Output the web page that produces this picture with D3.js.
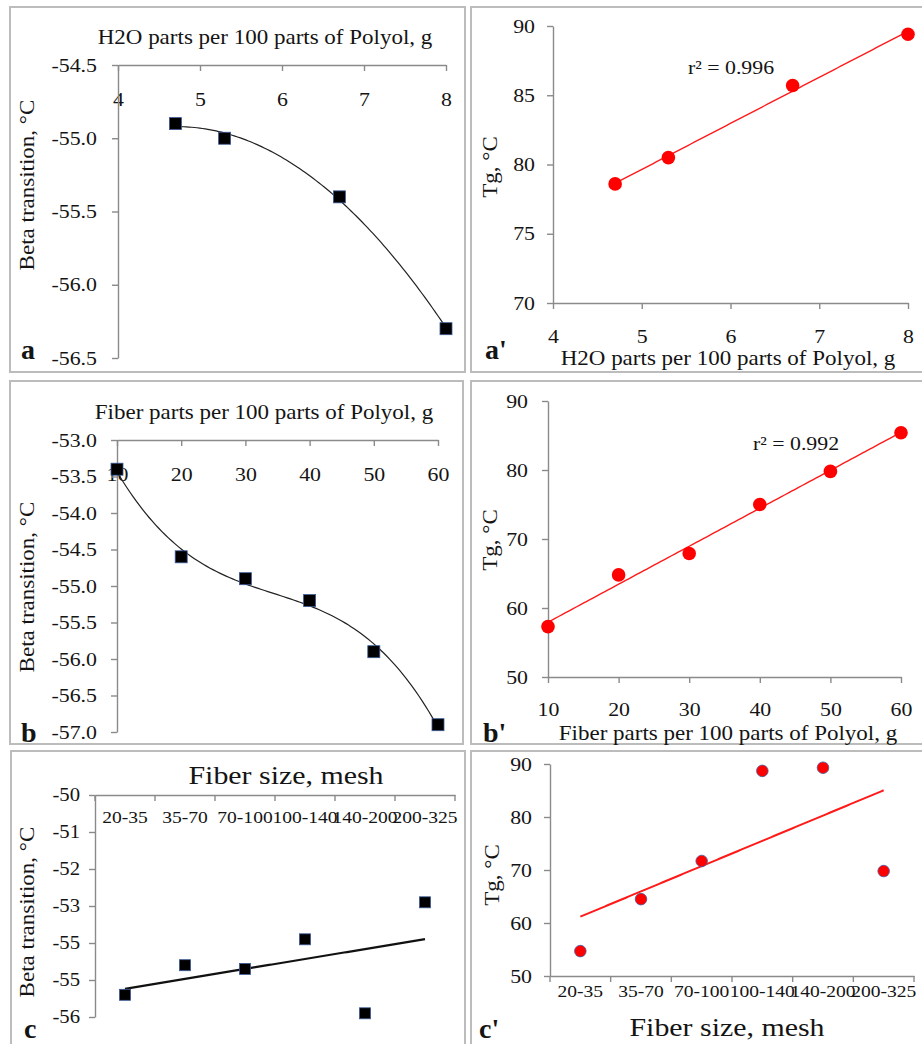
<!DOCTYPE html>
<html><head><meta charset="utf-8">
<script src="https://cdnjs.cloudflare.com/ajax/libs/d3/7.8.5/d3.min.js"></script>
<style>html,body{margin:0;padding:0;background:#fff;}svg{display:block;}</style>
</head><body>
<script>
// ---------------- data ----------------
const h2oParts   = [4.7, 5.3, 6.7, 8.0];
const betaH2O    = [-54.9, -55.0, -55.4, -56.3];
const tgH2O      = [78.6, 80.5, 85.7, 89.4];
const fiberParts = [10, 20, 30, 40, 50, 60];
const betaFiber  = [-53.4, -54.6, -54.9, -55.2, -55.9, -56.9];
const tgFiber    = [57.3, 64.8, 67.9, 75.0, 79.8, 85.4];
const meshSizes  = ["20-35", "35-70", "70-100", "100-140", "140-200", "200-325"];
const betaMesh   = [-55.4, -54.6, -54.7, -53.9, -55.9, -52.9];
const tgMesh     = [54.7, 64.5, 71.7, 88.7, 89.3, 69.8];

const h2oTicks        = [4, 5, 6, 7, 8];
const betaH2OTicks    = [-54.5, -55.0, -55.5, -56.0, -56.5];
const tgH2OTicks      = [70, 75, 80, 85, 90];
const fiberTicks      = [10, 20, 30, 40, 50, 60];
const betaFiberTicks  = [-53.0, -53.5, -54.0, -54.5, -55.0, -55.5, -56.0, -56.5, -57.0];
const tgFiberTicks    = [50, 60, 70, 80, 90];
const betaMeshTicks   = [-50, -51, -52, -53, -54, -55, -56];
const betaMeshLabels  = ["-50", "-51", "-52", "-53", "-55", "-55", "-56"];
const tgMeshTicks     = [50, 60, 70, 80, 90];

const r2H2O = "0.996", r2Fiber = "0.992";
const xTitleH2O = "H2O parts per 100 parts of Polyol, g";
const xTitleFiber = "Fiber parts per 100 parts of Polyol, g";
const xTitleMesh = "Fiber size, mesh";
const yTitleBeta = "Beta transition, \u00B0C";
const yTitleTg = "Tg, \u00B0C";

// ---------------- style ----------------
const SX = 1.15;
const SERIF = "'Liberation Serif','Times New Roman',serif";
const TEXT = "#141414";
const AXIS = "#8a8a8a";
const BORDER = "#bcbcbc";
const RED = "#ff1a1a";

const svg = d3.select("body").append("svg").attr("width", 922).attr("height", 1044);
svg.append("rect").attr("width", 922).attr("height", 1044).attr("fill", "#fff");

// panel frames
[[10,7,455,365],[471,7,460,365],[10,381,453,363],[471,381,460,363],[11,751,454,300],[471,751,460,300]]
  .forEach(([x,y,w,h]) => svg.append("rect").attr("x",x).attr("y",y).attr("width",w).attr("height",h)
    .attr("fill","none").attr("stroke",BORDER).attr("stroke-width",2));

function label(x, y, s, o = {}) {
  return svg.append("text")
    .attr("transform", `translate(${x},${y}) rotate(${o.rot || 0}) scale(${o.sx ?? SX},1)`)
    .attr("text-anchor", o.anchor || "middle")
    .attr("font-family", SERIF)
    .attr("font-size", o.size || 20)
    .attr("font-weight", o.weight || "normal")
    .attr("fill", o.fill || TEXT)
    .attr("dy", o.dy ?? "0.35em")
    .text(s);
}

function styleAxis(g, size) {
  g.select(".domain").attr("stroke", AXIS).attr("stroke-width", 1.4);
  g.selectAll(".tick line").attr("stroke", AXIS).attr("stroke-width", 1.4);
  g.selectAll(".tick text").attr("font-family", SERIF).attr("font-size", size).attr("fill", TEXT)
    .each(function () {
      const el = d3.select(this);
      const x = +el.attr("x") || 0;
      el.attr("x", x / SX).attr("transform", `scale(${SX},1)`);
    });
}

function polyfit(xs, ys, deg) {
  const m = d3.mean(xs), s = (d3.max(xs) - d3.min(xs)) / 2 || 1;
  const us = xs.map(x => (x - m) / s);
  const n = deg + 1;
  const A = Array.from({length: n}, () => Array(n + 1).fill(0));
  us.forEach((u, i) => {
    for (let r = 0; r < n; r++) {
      for (let c = 0; c < n; c++) A[r][c] += Math.pow(u, r + c);
      A[r][n] += ys[i] * Math.pow(u, r);
    }
  });
  for (let col = 0; col < n; col++) {
    let piv = col;
    for (let r = col + 1; r < n; r++) if (Math.abs(A[r][col]) > Math.abs(A[piv][col])) piv = r;
    [A[col], A[piv]] = [A[piv], A[col]];
    for (let r = 0; r < n; r++) {
      if (r === col) continue;
      const f = A[r][col] / A[col][col];
      for (let c = col; c <= n; c++) A[r][c] -= f * A[col][c];
    }
  }
  const coef = A.map((row, i) => row[n] / row[i]);
  return x => { const u = (x - m) / s; return coef.reduce((acc, c, i) => acc + c * Math.pow(u, i), 0); };
}

function trend(xs, ys, deg, xScale, yScale, color, width) {
  const f = polyfit(xs, ys, deg);
  const x0 = d3.min(xs), x1 = d3.max(xs);
  const pts = d3.range(0, 101).map(i => x0 + (x1 - x0) * i / 100);
  svg.append("path").datum(pts)
    .attr("d", d3.line().x(d => xScale(d)).y(d => yScale(f(d))))
    .attr("fill", "none").attr("stroke", color).attr("stroke-width", width);
}

function squares(xs, ys, xScale, yScale, size) {
  svg.append("g").selectAll("rect").data(xs).join("rect")
    .attr("x", (d) => xScale(d) - size / 2)
    .attr("y", (d, i) => yScale(ys[i]) - size / 2)
    .attr("width", size).attr("height", size)
    .attr("fill", "#000").attr("stroke", "#3a5a9a").attr("stroke-width", 0.8);
}
function circles(xs, ys, xScale, yScale, r, stroke) {
  svg.append("g").selectAll("circle").data(xs).join("circle")
    .attr("cx", d => xScale(d)).attr("cy", (d, i) => yScale(ys[i])).attr("r", r)
    .attr("fill", "#ff0000").attr("stroke", stroke || "none").attr("stroke-width", 0.8);
}

const fmt1 = d => d.toFixed(1);

// ================= Panel a =================
{
  const x = d3.scaleLinear().domain([4, 8]).range([118, 446]);
  const y = d3.scaleLinear().domain([-56.5, -54.5]).range([358, 65]);
  const gx = svg.append("g").attr("transform", "translate(0,65)")
    .call(d3.axisBottom(x).tickValues(h2oTicks).tickFormat(d3.format("d")).tickSize(6).tickSizeOuter(0).tickPadding(22));
  styleAxis(gx, 19);
  const gy = svg.append("g").attr("transform", "translate(118,0)")
    .call(d3.axisLeft(y).tickValues(betaH2OTicks).tickFormat(fmt1).tickSize(6).tickSizeOuter(0).tickPadding(15));
  styleAxis(gy, 19);
  trend(h2oParts, betaH2O, 2, x, y, "#222", 1.2);
  squares(h2oParts, betaH2O, x, y, 12);
  label(265, 37, xTitleH2O, {size: 20});
  label(27, 185, yTitleBeta, {size: 20, rot: -90});
  label(21, 359, "a", {size: 28, weight: "bold", anchor: "start", sx: 1, dy: 0});
}

// ================= Panel a' =================
{
  const x = d3.scaleLinear().domain([4, 8]).range([553, 908]);
  const y = d3.scaleLinear().domain([70, 90]).range([303, 26]);
  const gx = svg.append("g").attr("transform", "translate(0,303)")
    .call(d3.axisBottom(x).tickValues(h2oTicks).tickFormat(d3.format("d")).tickSize(6).tickSizeOuter(0).tickPadding(21));
  styleAxis(gx, 19);
  const gy = svg.append("g").attr("transform", "translate(553,0)")
    .call(d3.axisLeft(y).tickValues(tgH2OTicks).tickFormat(d3.format("d")).tickSize(6).tickSizeOuter(0).tickPadding(12));
  styleAxis(gy, 19);
  trend(h2oParts, tgH2O, 1, x, y, RED, 1.4);
  circles(h2oParts, tgH2O, x, y, 6.8);
  label(731, 67, "r\u00B2 = " + r2H2O, {size: 19});
  label(728, 358, xTitleH2O, {size: 20});
  label(490, 167, yTitleTg, {size: 20, rot: -90});
  label(485, 359, "a'", {size: 28, weight: "bold", anchor: "start", sx: 1, dy: 0});
}

// ================= Panel b =================
{
  const x = d3.scaleLinear().domain([10, 60]).range([117, 438]);
  const y = d3.scaleLinear().domain([-57, -53]).range([732, 440]);
  const gx = svg.append("g").attr("transform", "translate(0,440)")
    .call(d3.axisBottom(x).tickValues(fiberTicks).tickFormat(d3.format("d")).tickSize(6).tickSizeOuter(0).tickPadding(22));
  styleAxis(gx, 19);
  const gy = svg.append("g").attr("transform", "translate(117,0)")
    .call(d3.axisLeft(y).tickValues(betaFiberTicks).tickFormat(fmt1).tickSize(6).tickSizeOuter(0).tickPadding(14));
  styleAxis(gy, 19);
  trend(fiberParts, betaFiber, 3, x, y, "#222", 1.2);
  squares(fiberParts, betaFiber, x, y, 12);
  label(264, 412, xTitleFiber, {size: 20});
  label(27, 587, yTitleBeta, {size: 20, rot: -90});
  label(21, 742, "b", {size: 28, weight: "bold", anchor: "start", sx: 1, dy: 0});
}

// ================= Panel b' =================
{
  const x = d3.scaleLinear().domain([10, 60]).range([548, 901]);
  const y = d3.scaleLinear().domain([50, 90]).range([677, 401]);
  const gx = svg.append("g").attr("transform", "translate(0,677)")
    .call(d3.axisBottom(x).tickValues(fiberTicks).tickFormat(d3.format("d")).tickSize(6).tickSizeOuter(0).tickPadding(20));
  styleAxis(gx, 19);
  const gy = svg.append("g").attr("transform", "translate(548,0)")
    .call(d3.axisLeft(y).tickValues(tgFiberTicks).tickFormat(d3.format("d")).tickSize(6).tickSizeOuter(0).tickPadding(14));
  styleAxis(gy, 19);
  trend(fiberParts, tgFiber, 1, x, y, RED, 1.4);
  circles(fiberParts, tgFiber, x, y, 6.8);
  label(796, 443, "r\u00B2 = " + r2Fiber, {size: 19});
  label(728, 733, xTitleFiber, {size: 20});
  label(490, 540, yTitleTg, {size: 20, rot: -90});
  label(483, 742, "b'", {size: 28, weight: "bold", anchor: "start", sx: 1, dy: 0});
}

// category panels: index scale maps category position (0..5) to band centres
function categoryPanel(o) {
  const x = d3.scaleBand().domain(meshSizes).range(o.xr).padding(0);
  const y = d3.scaleLinear().domain(o.yd).range(o.yr);
  const cx = d => x(d) + x.bandwidth() / 2;
  const xi = d3.scaleLinear().domain([0, meshSizes.length - 1])
    .range([cx(meshSizes[0]), cx(meshSizes[meshSizes.length - 1])]);
  const axisY = o.topAxis ? o.yr[1] : o.yr[0];
  const gx = svg.append("g").attr("transform", `translate(0,${axisY})`)
    .call(d3.axisBottom(x).tickSize(0).tickSizeOuter(0).tickPadding(o.xPad));
  styleAxis(gx, 17);
  gx.selectAll(".bound").data(meshSizes.map(m => x(m)).concat([x.range()[1]])).join("line")
    .attr("x1", d => d).attr("x2", d => d).attr("y1", 0).attr("y2", 6)
    .attr("stroke", AXIS).attr("stroke-width", 1.4);
  const gy = svg.append("g").attr("transform", `translate(${o.xr[0]},0)`)
    .call(d3.axisLeft(y).tickValues(o.ticks).tickFormat(o.fmt).tickSize(6).tickSizeOuter(0).tickPadding(o.yPad));
  styleAxis(gy, o.ySize);
  const idx = meshSizes.map((m, i) => i);
  return {xi, y, idx};
}

// ================= Panel c =================
{
  const {xi, y, idx} = categoryPanel({xr: [95, 455], yd: [-56, -50], yr: [1017, 795], topAxis: true,
    xPad: 16, yPad: 9, ySize: 18, ticks: betaMeshTicks, fmt: (d, i) => betaMeshLabels[i]});
  trend(idx, betaMesh, 1, xi, y, "#111", 2.2);
  squares(idx, betaMesh, xi, y, 11);
  label(286, 775, xTitleMesh, {size: 26});
  label(27, 912, yTitleBeta, {size: 20, rot: -90});
  label(24, 1038, "c", {size: 28, weight: "bold", anchor: "start", sx: 1, dy: 0});
}

// ================= Panel c' =================
{
  const {xi, y, idx} = categoryPanel({xr: [550, 914], yd: [50, 90], yr: [976, 764], topAxis: false,
    xPad: 9, yPad: 12, ySize: 19, ticks: tgMeshTicks, fmt: d3.format("d")});
  trend(idx, tgMesh, 1, xi, y, RED, 2);
  circles(idx, tgMesh, xi, y, 5.8, "#4a5a9a");
  label(727, 1027, xTitleMesh, {size: 26});
  label(492, 875, yTitleTg, {size: 20, rot: -90});
  label(479, 1038, "c'", {size: 28, weight: "bold", anchor: "start", sx: 1, dy: 0});
}
</script>
</body></html>
